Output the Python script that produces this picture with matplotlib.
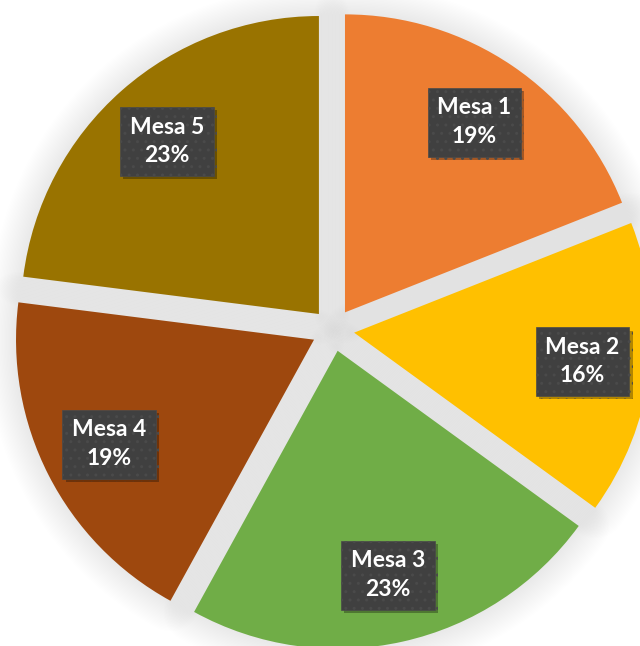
import matplotlib
matplotlib.use("Agg")
import matplotlib.pyplot as plt
import matplotlib.patheffects as pe
from matplotlib.patches import Wedge
import numpy as np

names = ["Mesa 1", "Mesa 2", "Mesa 3", "Mesa 4", "Mesa 5"]
shares = [19, 16, 23, 19, 23]
colors = ["#ED7D31", "#FFC000", "#70AD47", "#9E480E", "#997300"]

fig = plt.figure(figsize=(6.4, 6.46), dpi=100)
ax = fig.add_axes([0, 0, 1, 1])

# explode is in data units (pixels here)
wedges, _ = ax.pie(shares, colors=colors, startangle=90, counterclock=False,
                   center=(333, 316), radius=298, explode=[21.3] * 5,
                   wedgeprops=dict(linewidth=0, zorder=3))
ax.set_xlim(0, 640)
ax.set_ylim(0, 646)
ax.set_aspect("equal")
ax.axis("off")

# soft shadow around each slice
for w in wedges:
    for lw in range(44, 0, -2):
        ax.add_patch(Wedge(w.center, w.r, w.theta1, w.theta2, facecolor="none",
                           edgecolor="black", linewidth=lw, alpha=0.0045,
                           joinstyle="round", zorder=1))

for w, name, s in zip(wedges, names, shares):
    mid = np.deg2rad((w.theta1 + w.theta2) / 2)
    x = w.center[0] + 0.772 * w.r * np.cos(mid)
    y = w.center[1] + 0.772 * w.r * np.sin(mid)
    t = ax.text(x, y, f"{name}\n{s}%", ha="center", va="center",
                fontsize=16.5, fontweight="bold", family="Lato", color="white",
                linespacing=1.45, zorder=5,
                bbox=dict(boxstyle="square,pad=0.42", facecolor="#404040",
                          edgecolor="#4a4a4a", linewidth=0.5, hatch=".."))
    t.get_bbox_patch().set_path_effects([
        pe.SimplePatchShadow(offset=(2.5, -2.5), shadow_rgbFace="black", alpha=0.3),
        pe.Normal()])

fig.savefig("out.png", dpi=100)
